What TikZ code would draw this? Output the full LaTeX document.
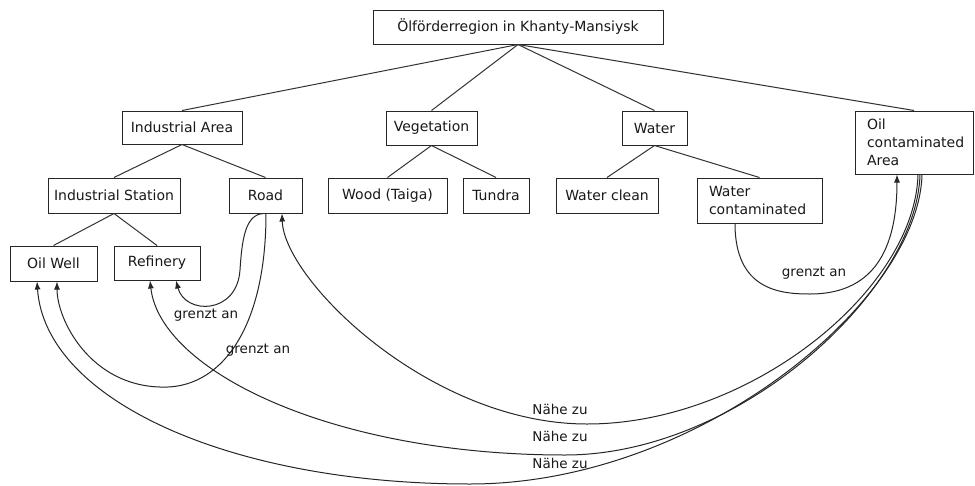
\documentclass[tikz,border=0pt]{standalone}
\usepackage{fontspec}
\setmainfont{DejaVu Sans}
\usetikzlibrary{arrows.meta}
\begin{document}
\begin{tikzpicture}[x=1pt,y=-1pt,
  box/.style={draw=black!85, line width=1pt, rectangle, inner sep=0pt, font=\fontsize{14}{18}\selectfont, text=black!90},
  tree/.style={draw=black!80, line width=1pt},
  rel/.style={draw=black!85, line width=1pt, -{Latex[length=8pt,width=6pt]}},
  lab/.style={font=\fontsize{13.5}{16}\selectfont, text=black!90, inner sep=0pt}
]
\useasboundingbox (0,0) rectangle (975,485);
\fill[white] (0,0) rectangle (975,485);

% nodes
\node[box, minimum width=290pt, minimum height=34pt] (root) at (518,27) {Ölförderregion in Khanty-Mansiysk};
\node[box, minimum width=120pt, minimum height=33pt] (ia) at (182,127.5) {Industrial Area};
\node[box, minimum width=91pt, minimum height=34pt] (veg) at (431.5,128) {Vegetation};
\node[box, minimum width=65pt, minimum height=34pt] (water) at (654.5,128) {Water};
\node[box, minimum width=118pt, minimum height=63pt, text width=94pt, align=left] (oca) at (914,142.5) {Oil\\contaminated\\Area};
\node[box, minimum width=132pt, minimum height=35pt] (is) at (114,195.5) {Industrial Station};
\node[box, minimum width=73pt, minimum height=35pt] (road) at (265.5,195.5) {Road};
\node[box, minimum width=119pt, minimum height=35pt] (wood) at (387.5,195.5) {Wood (Taiga)};
\node[box, minimum width=66pt, minimum height=35pt] (tundra) at (496,195.5) {Tundra};
\node[box, minimum width=102pt, minimum height=35pt] (wclean) at (607,195.5) {Water clean};
\node[box, minimum width=125pt, minimum height=45pt, text width=101pt, align=left] (wcont) at (759.5,200.5) {Water\\contaminated};
\node[box, minimum width=87pt, minimum height=35pt] (oilwell) at (53.5,263.5) {Oil Well};
\node[box, minimum width=86pt, minimum height=34pt] (ref) at (157,263) {Refinery};

% tree edges
\draw[tree] (root.south) -- (ia.north);
\draw[tree] (root.south) -- (veg.north);
\draw[tree] (root.south) -- (water.north);
\draw[tree] (root.south) -- (oca.north);
\draw[tree] (ia.south) -- (is.north);
\draw[tree] (ia.south) -- (road.north);
\draw[tree] (is.south) -- (oilwell.north);
\draw[tree] (is.south) -- (ref.north);
\draw[tree] (veg.south) -- (wood.north);
\draw[tree] (veg.south) -- (tundra.north);
\draw[tree] (water.south) -- (wclean.north);
\draw[tree] (water.south) -- (wcont.north);

% relations
\draw[rel] ([xshift=-2.5pt]road.south) .. controls (245,215) and (242,240) .. (240,270) .. controls (237,315) and (185,315) .. ([xshift=19pt]ref.south);
\draw[rel] ([xshift=0.5pt]road.south) .. controls (266,330) and (220,390) .. (160,387) .. controls (90,385) and (57,320) .. ([xshift=3.5pt]oilwell.south);
\draw[rel] ([xshift=4pt]oca.south) .. controls (915,290) and (750,424) .. (587,424) .. controls (430,424) and (284,280) .. ([xshift=16.5pt]road.south);
\draw[rel] ([xshift=6pt]oca.south) .. controls (917,290) and (740,455) .. (565,455) .. controls (330,455) and (160,370) .. ([xshift=-7pt]ref.south);
\draw[rel] ([xshift=8pt]oca.south) .. controls (919,300) and (700,484) .. (470,484) .. controls (230,484) and (45,400) .. ([xshift=-16.5pt]oilwell.south);
\draw[rel] ([xshift=-24.5pt]wcont.south) .. controls (735,290) and (780,294) .. (810,294) .. controls (880,294) and (897,240) .. ([xshift=-17pt]oca.south);

% labels
\node[lab] (l1) at (206,315) {grenzt an};
\node[lab] (l2) at (258,350) {grenzt an};
\node[lab] (l3) at (814,273) {grenzt an};
\node[lab] (l4) at (560,409) {Nähe zu};
\node[lab] (l5) at (560,436) {Nähe zu};
\node[lab] (l6) at (560,463) {Nähe zu};
\end{tikzpicture}
\end{document}
